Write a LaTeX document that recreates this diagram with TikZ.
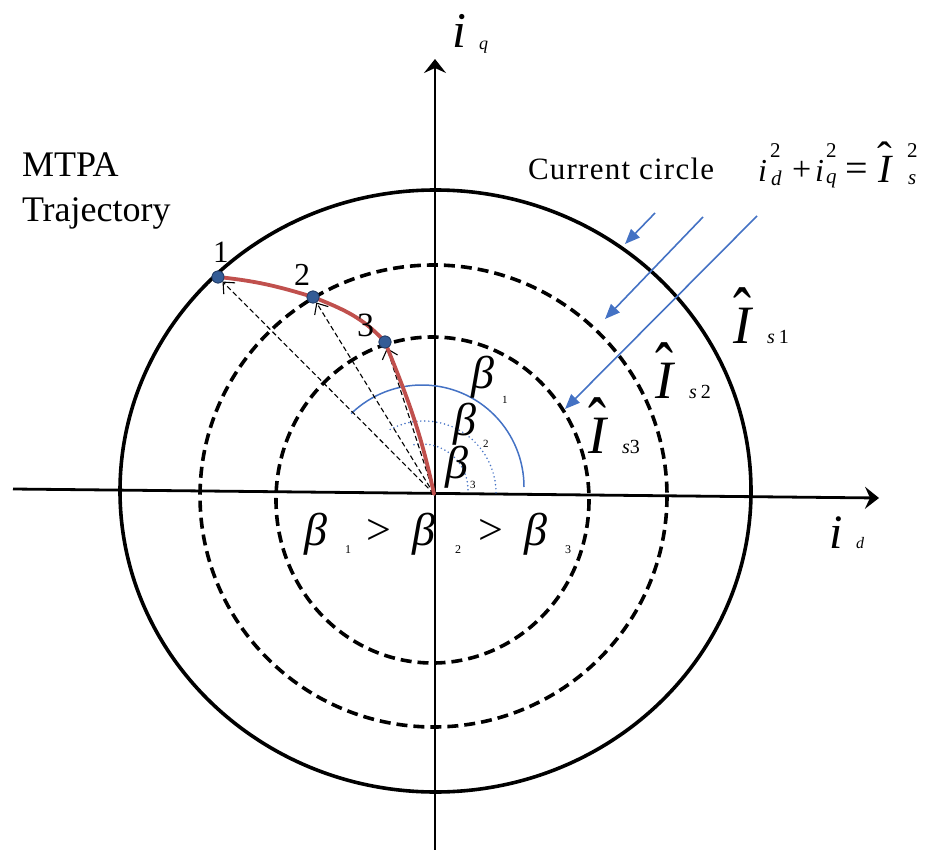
\documentclass[tikz,border=0pt]{standalone}
\usepackage{fontspec}
\setmainfont{Liberation Serif}
\usepackage{graphicx}
\usetikzlibrary{arrows.meta}
\definecolor{lblue}{RGB}{68,114,196}
\definecolor{cred}{RGB}{192,80,77}
\definecolor{dotblue}{RGB}{52,92,150}
\definecolor{dotedge}{RGB}{35,62,105}
\newcommand\fsz[1]{\fontsize{#1}{#1}\selectfont}
% I with a wide hat: #1 raise, #2 xscale, #3 yscale, #4 kern
\newcommand\IHat[4]{\ooalign{I\cr\hidewidth\kern#4\raisebox{#1}{\scalebox{#2}[#3]{\upshape ˆ}}\hidewidth\cr}}
\begin{document}
\begin{tikzpicture}[x=1pt,y=-1pt,
  lbl/.style={inner sep=0pt,outer sep=0pt,anchor=base west},
  solidcirc/.style={line width=3.6pt},
  dashcirc/.style={line width=3.6pt,dash pattern=on 11pt off 6pt},
  axis/.style={line width=2.8pt,-{Stealth[length=14pt,width=22pt,inset=5pt]}},
  arcline/.style={lblue,line width=1.5pt},
  arcdot/.style={lblue,line width=1.7pt,line cap=round,dash pattern=on 0pt off 4pt},
  darrow/.style={line width=1.1pt,dash pattern=on 5pt off 3pt,-{Straight Barb[length=9pt,width=16pt]}},
  barrow/.style={lblue,line width=1.6pt,-{Triangle[length=15pt,width=12pt]}},
  redc/.style={cred,line width=3.8pt,line cap=round},
  dot/.style={circle,fill=dotblue,draw=dotedge,line width=0.8pt,minimum size=12pt,inner sep=0pt}]
\useasboundingbox (0,0) rectangle (928,850);

% current circles
\draw[solidcirc] (435.5,491) ellipse [x radius=315.5, y radius=301];
\draw[dashcirc] (433.5,496) ellipse [x radius=233.5, y radius=231];
\draw[dashcirc] (432.5,500) ellipse [x radius=156.5, y radius=163];

% axes
\coordinate (O) at (434,494);
\coordinate (xl) at (13,489);
\coordinate (xr) at (879,498);
\coordinate (yb) at (435,850);
\coordinate (yt) at (435,59);
\draw[axis] (xl) -- (xr);
\draw[axis] (yb) -- (yt);

% angle arcs
\coordinate (ca) at (422,487);
\coordinate (cb) at (424,493);
\coordinate (cc) at (422,490);
\draw[arcline] ([shift={(-134:102)}]ca) arc[start angle=-134,end angle=0,radius=102];
\draw[arcdot] ([shift={(-118:72)}]cb) arc[start angle=-118,end angle=0,radius=72];
\draw[arcdot] ([shift={(-100:46)}]cc) arc[start angle=-100,end angle=0,radius=46];

% operating points
\node[dot] (p1) at (218,277) {};
\node[dot] (p2) at (313,297) {};
\node[dot] (p3) at (385,342) {};

% current vectors
\draw[darrow] (O) -- (p1);
\draw[darrow] (O) -- (p2);
\draw[darrow] (O) -- (p3);

% MTPA trajectory
\draw[redc] (p1.center) to[out=-6,in=163] (p2.center) to[out=-22,in=132] (p3.center) to[out=-68,in=102] (O);
\node[dot] (q1) at (p1) {};
\node[dot] (q2) at (p2) {};
\node[dot] (q3) at (p3) {};

% blue arrows
\coordinate (a1s) at (655,213); \coordinate (a1e) at (625,244);
\coordinate (a2s) at (703,217); \coordinate (a2e) at (605,319);
\coordinate (a3s) at (757,216); \coordinate (a3e) at (565,409);
\draw[barrow] (a1s) -- (a1e);
\draw[barrow] (a2s) -- (a2e);
\draw[barrow] (a3s) -- (a3e);

% axis labels
\node[lbl] (iq) at (452,48) {\fsz{50}\itshape i};
\node[lbl] (iqs) at (479,50) {\fsz{18}\itshape q};
\node[lbl] (id) at (829,548) {\fsz{48}\itshape i};
\node[lbl] (ids) at (856,548) {\fsz{16}\itshape d};

% texts
\node[lbl] (mtpa) at (22,177) {\fsz{36}MTPA};
\node[lbl] (traj) at (22,222) {\fsz{36}Trajectory};
\node[lbl] (ccirc) at (528,180) {\fsz{31}\addfontfeature{LetterSpace=4}Current circle};

% formula
\node[lbl] (f1) at (758,182) {\fsz{32}\itshape i};
\node[lbl] (f2) at (770,158) {\fsz{21}2};
\node[lbl] (f3) at (771,186) {\fsz{21}\itshape d};
\node[lbl] (f4) at (792,181) {\fsz{34}+};
\node[lbl] (f5) at (815,182) {\fsz{32}\itshape i};
\node[lbl] (f6) at (826,158) {\fsz{21}2};
\node[lbl] (f7) at (826,184) {\fsz{21}\itshape q};
\node[lbl] (f8) at (845,182) {\fsz{40}=};
\node[lbl] (f9) at (878,183) {\fsz{40}\itshape\IHat{10pt}{1.1}{1.1}{0pt}};
\node[lbl] (f10) at (907,158) {\fsz{21}2};
\node[lbl] (f11) at (908,185) {\fsz{21}\itshape s};

% point numbers
\node[lbl] (n1) at (213,262) {\fsz{31}1};
\node[lbl] (n2) at (294,285) {\fsz{32}2};
\node[lbl] (n3) at (357,336) {\fsz{34}3};

% angle labels
\node[lbl] (bA) at (471,388) {\fsz{46}\itshape β};
\node[lbl] (bAs) at (502,403) {\fsz{11}1};
\node[lbl] (bB) at (453,435) {\fsz{46}\itshape β};
\node[lbl] (bBs) at (483,447) {\fsz{11}2};
\node[lbl] (bC) at (445,478) {\fsz{46}\itshape β};
\node[lbl] (bCs) at (470,488) {\fsz{11}3};

% current amplitude labels
\node[lbl] (I1) at (733,343) {\fsz{54}\itshape\IHat{7pt}{1.0}{1.3}{0pt}};
\node[lbl] (I1s) at (767,343) {\fsz{20}\itshape s\hspace{4pt}\upshape 1};
\node[lbl] (I2) at (655,398) {\fsz{54}\itshape\IHat{7pt}{1.0}{1.3}{0pt}};
\node[lbl] (I2s) at (689,398) {\fsz{20}\itshape s\hspace{4pt}\upshape 2};
\node[lbl] (I3) at (588,453) {\fsz{54}\itshape\IHat{7pt}{1.0}{1.3}{0pt}};
\node[lbl] (I3s) at (622,453) {\fsz{20}\itshape s\upshape 3};

% inequality
\node[lbl] (c1) at (304,545) {\fsz{46}\itshape β};
\node[lbl] (c1s) at (345,553) {\fsz{12}1};
\node[lbl] (c2) at (366,544) {\fsz{44}>};
\node[lbl] (c3) at (412,545) {\fsz{46}\itshape β};
\node[lbl] (c3s) at (455,553) {\fsz{12}2};
\node[lbl] (c4) at (478,544) {\fsz{44}>};
\node[lbl] (c5) at (524,545) {\fsz{46}\itshape β};
\node[lbl] (c5s) at (565,553) {\fsz{12}3};
\end{tikzpicture}
\end{document}
